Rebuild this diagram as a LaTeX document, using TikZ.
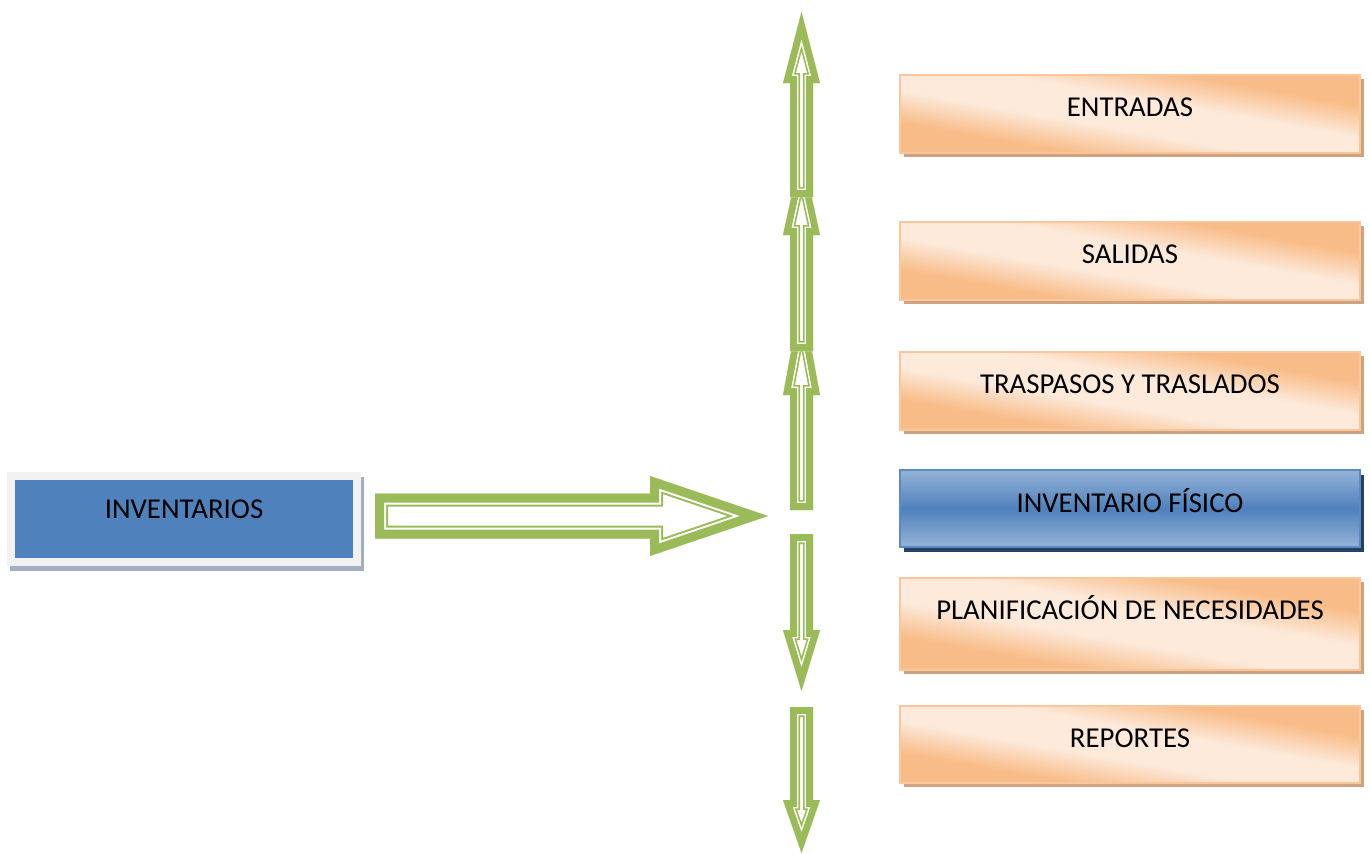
\documentclass[tikz,border=0pt]{standalone}
\usepackage{fontspec}
\setmainfont{Carlito}
\usetikzlibrary{shadows}

\definecolor{arrowgreen}{HTML}{9BBB59}
\definecolor{peachDark}{HTML}{F8BC88}
\definecolor{peachLight}{HTML}{FDEADB}
\definecolor{peachEdge}{HTML}{FAC69C}
\definecolor{peachShadow}{HTML}{CFA280}
\definecolor{skyTop}{HTML}{95B3D7}
\definecolor{skyMid}{HTML}{4F81BD}
\definecolor{skyEdge}{HTML}{5B8AC4}
\definecolor{navyShadow}{HTML}{254061}
\definecolor{invBlue}{HTML}{4F81BD}
\definecolor{invFrame}{HTML}{F2F2F2}
\definecolor{invShadow}{HTML}{A3AEC1}

% peach fill: orange at both ends, a broad pale band between
\pgfdeclareverticalshading{peachband}{100bp}{%
  color(0bp)=(peachDark); color(32bp)=(peachDark);
  color(44bp)=(peachLight); color(56bp)=(peachLight);
  color(68bp)=(peachDark); color(100bp)=(peachDark)}

% hollow block arrow: green rim, thin white gap, thin green inner outline
\newcommand\hollowarrow[4]{%
  \begin{scope}
    \clip #1;
    \fill[white] #1;
    \draw[arrowgreen, line width=#4] #1;
    \draw[white, line width=#3] #1;
    \draw[arrowgreen, line width=#2] #1;
  \end{scope}}

\tikzset{
  px/.style={x=0.5pt, y=-0.5pt},
  optbox/.style={rectangle, anchor=north west, inner sep=0pt, outer sep=0pt,
    minimum width=230pt, minimum height=39pt,
    draw=peachEdge, line width=0.9pt,
    shading=peachband, shading angle=-10,
    drop shadow={shadow xshift=2pt, shadow yshift=-2.2pt, fill=peachShadow, opacity=1}},
  activebox/.style={rectangle, anchor=north west, inner sep=0pt, outer sep=0pt,
    minimum width=230pt, minimum height=38.5pt,
    draw=skyEdge, line width=0.9pt,
    top color=skyTop, bottom color=skyTop, middle color=skyMid,
    drop shadow={shadow xshift=2pt, shadow yshift=-2.5pt, fill=navyShadow, opacity=1}},
  rootbox/.style={rectangle, anchor=north west, inner sep=0pt, outer sep=0pt,
    minimum width=173pt, minimum height=43pt,
    fill=invBlue, draw=invFrame, line width=4pt},
  lbl/.style={font=\fontsize{14.4pt}{17pt}\selectfont, anchor=base, inner sep=0pt, text=black},
}

\begin{document}
\begin{tikzpicture}[px]
  \useasboundingbox (0,0) rectangle (1371,853);

  % root module
  \fill[invShadow] (9.5,477) rectangle (363.5,571);
  \node[rootbox] (inv) at (11,476) {};
  \node[lbl] (invT) at ([yshift=-21pt]inv.north) {INVENTARIOS};

  % sub-modules
  \node[optbox] (b1) at (900,75) {};
  \node[lbl] (b1T) at ([yshift=-20.5pt]b1.north) {ENTRADAS};
  \node[optbox] (b2) at (900,222) {};
  \node[lbl] (b2T) at ([yshift=-20.5pt]b2.north) {SALIDAS};
  \node[optbox] (b3) at (900,352) {};
  \node[lbl] (b3T) at ([yshift=-20.5pt]b3.north) {TRASPASOS Y TRASLADOS};
  \node[activebox] (b4) at (900,470) {};
  \node[lbl] (b4T) at ([yshift=-21pt]b4.north) {INVENTARIO FÍSICO};
  \node[optbox, minimum height=46pt] (b5) at (900,578) {};
  \node[lbl] (b5T) at ([yshift=-20.5pt]b5.north) {PLANIFICACIÓN DE NECESIDADES};
  \node[optbox, minimum height=38.5pt] (b6) at (900,706) {};
  \node[lbl] (b6T) at ([yshift=-20.5pt]b6.north) {REPORTES};

  % horizontal arrow from the root module
  \hollowarrow{(375,493.5) -- (650,493.5) -- (650,476) -- (768,516) -- (650,556) -- (650,538.5) -- (375,538.5) -- cycle}{9pt}{11pt}{13pt}

  % upward arrows (lowest first, so each upper one lies on top)
  \hollowarrow{(790,510) -- (790,395) -- (783,395) -- (801.5,295) -- (820,395) -- (813,395) -- (813,510) -- cycle}{6.8pt}{8.3pt}{10pt}
  \hollowarrow{(790,351) -- (790,235) -- (783,235) -- (801.5,150) -- (820,235) -- (813,235) -- (813,351) -- cycle}{6.8pt}{8.3pt}{10pt}
  \hollowarrow{(790,197) -- (790,83) -- (783,83) -- (801.5,12) -- (820,83) -- (813,83) -- (813,197) -- cycle}{6.8pt}{8.3pt}{10pt}

  % downward arrows
  \hollowarrow{(790,534) -- (790,630) -- (783,630) -- (801.5,691) -- (820,630) -- (813,630) -- (813,534) -- cycle}{6.8pt}{8.3pt}{10pt}
  \hollowarrow{(790,707) -- (790,800) -- (783,800) -- (801.5,853) -- (820,800) -- (813,800) -- (813,707) -- cycle}{6.8pt}{8.3pt}{10pt}
\end{tikzpicture}
\end{document}
